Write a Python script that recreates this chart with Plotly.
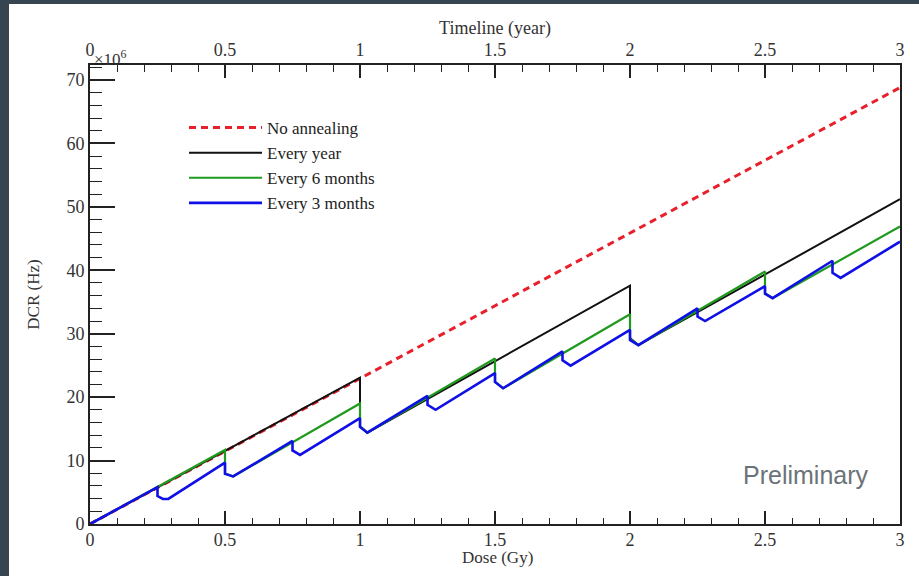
import plotly.graph_objects as go

# ---- data (DCR in units of 1e6 Hz vs dose in Gy) ----
no_anneal_x = [0.0, 3.0]
no_anneal_y = [0.0, 68.8]

year_x = [0.0, 1.0, 1.0, 1.027, 2.0, 2.0, 2.031, 3.0]
year_y = [0.0, 23.07, 15.4, 14.4, 37.57, 29.3, 28.2, 51.2]

six_x = [0.0, 0.5, 0.5, 0.53, 1.0, 1.0, 1.027, 1.5, 1.5, 1.53, 2.0, 2.0, 2.031, 2.5, 2.5, 2.528, 3.0]
six_y = [0.0, 11.67, 8.0, 7.5, 19.0, 15.4, 14.4, 26.1, 22.4, 21.4, 33.06, 29.2, 28.2, 39.8, 36.4, 35.6, 46.9]

three_x = [0.0, 0.25, 0.25, 0.27, 0.29, 0.5, 0.5, 0.53, 0.75, 0.75, 0.778,
           1.0, 1.0, 1.027, 1.25, 1.25, 1.28, 1.5, 1.5, 1.53, 1.75, 1.75, 1.78,
           2.0, 2.0, 2.031, 2.25, 2.25, 2.278, 2.5, 2.5, 2.528, 2.75, 2.75, 2.78, 3.0]
three_y = [0.0, 5.8, 4.4, 3.95, 3.95, 9.67, 7.9, 7.5, 13.1, 11.6, 10.9,
           16.7, 15.3, 14.4, 20.2, 18.8, 18.0, 23.8, 22.4, 21.4, 27.2, 25.8, 24.96,
           30.6, 29.0, 28.2, 34.0, 32.7, 32.0, 37.5, 36.3, 35.6, 41.5, 39.6, 38.8, 44.5]

series_names = ["No annealing", "Every year", "Every 6 months", "Every 3 months"]

x_ticks = [0, 0.5, 1, 1.5, 2, 2.5, 3]
x_ticklabels = ["0", "0.5", "1", "1.5", "2", "2.5", "3"]
y_ticks = [0, 10, 20, 30, 40, 50, 60, 70]

SERIF = "Liberation Serif, Times New Roman, serif"

fig = go.Figure()
fig.add_trace(go.Scatter(x=no_anneal_x, y=no_anneal_y, mode="lines", name=series_names[0],
                         line=dict(color="#e8202b", width=3, dash="7px,5px")))
fig.add_trace(go.Scatter(x=year_x, y=year_y, mode="lines", name=series_names[1],
                         line=dict(color="#111111", width=2)))
fig.add_trace(go.Scatter(x=six_x, y=six_y, mode="lines", name=series_names[2],
                         line=dict(color="#1f9a1f", width=2.2)))
fig.add_trace(go.Scatter(x=three_x, y=three_y, mode="lines", name=series_names[3],
                         line=dict(color="#1010e6", width=2.6)))
# invisible trace to anchor top axis
fig.add_trace(go.Scatter(x=[0, 3], y=[0, 0], xaxis="x2", mode="lines",
                         line=dict(width=0), showlegend=False, hoverinfo="skip"))

# geometry of plot area in px
L, R, T, B = 90, 900, 65, 524
W, H = 919, 576

def px2paper_x(px):
    return (px - L) / (R - L)

def px2paper_y(py):
    return (B - py) / (B - T)

fig.update_layout(
    width=W, height=H,
    margin=dict(l=L, r=W - R, t=T, b=H - B, autoexpand=False),
    paper_bgcolor="#36454f",
    plot_bgcolor="white",
    font=dict(family=SERIF, color="#333333", size=18),
    showlegend=True,
    legend=dict(x=px2paper_x(184), y=px2paper_y(110), xanchor="left", yanchor="top",
                bgcolor="rgba(0,0,0,0)", font=dict(family=SERIF, size=17, color="#222222"),
                tracegroupgap=0, itemwidth=73),
    xaxis=dict(range=[0, 3], tickvals=x_ticks, ticktext=x_ticklabels, ticks="inside",
               ticklen=13, tickwidth=1.5, tickcolor="#222", showline=True, linecolor="#222",
               linewidth=2, showgrid=False, zeroline=False, ticklabelstandoff=-2,
               minor=dict(dtick=0.1, ticklen=6, tickwidth=1.2, tickcolor="#222", ticks="inside", showgrid=False),
               tickfont=dict(size=18)),
    xaxis2=dict(range=[0, 3], overlaying="x", side="top", tickvals=x_ticks, ticktext=x_ticklabels,
                ticks="inside", ticklen=13, tickwidth=1.5, tickcolor="#222", showline=True,
                linecolor="#222", linewidth=2, showgrid=False, zeroline=False,
                minor=dict(dtick=0.1, ticklen=7, tickwidth=1.2, tickcolor="#222", ticks="inside", showgrid=False),
                title=dict(text="Timeline (year)", font=dict(size=18), standoff=0),
                tickfont=dict(size=18)),
    yaxis=dict(range=[0, 72.36], tickvals=y_ticks, ticks="inside", ticklen=25, tickwidth=1.5,
               tickcolor="#222", showline=True, linecolor="#222", linewidth=2, mirror=True,
               showgrid=False, zeroline=False,
               minor=dict(dtick=2, ticklen=12, tickwidth=1.2, tickcolor="#222", ticks="inside", showgrid=False),
               title=dict(text="DCR (Hz)", font=dict(size=17), standoff=22),
               tickfont=dict(size=18)),
    shapes=[dict(type="rect", xref="paper", yref="paper", layer="below",
                 x0=px2paper_x(9), x1=px2paper_x(925), y0=px2paper_y(582), y1=px2paper_y(4),
                 fillcolor="white", line=dict(width=0))],
    annotations=[
        dict(text="Dose (Gy)", xref="paper", yref="paper", x=px2paper_x(497), y=px2paper_y(557),
             xanchor="center", yanchor="middle", showarrow=False, font=dict(family=SERIF, size=17, color="#333")),
        dict(text="×10<sup>6</sup>", xref="paper", yref="paper", x=px2paper_x(92), y=px2paper_y(58),
             xanchor="left", yanchor="middle", showarrow=False, font=dict(family=SERIF, size=17, color="#333")),
        dict(text="Preliminary", xref="paper", yref="paper", x=px2paper_x(806), y=px2paper_y(475),
             xanchor="center", yanchor="middle", showarrow=False,
             font=dict(family="Liberation Sans, Arial, sans-serif", size=25, color="#6b7378")),
    ],
)

fig.write_html("out.html")
